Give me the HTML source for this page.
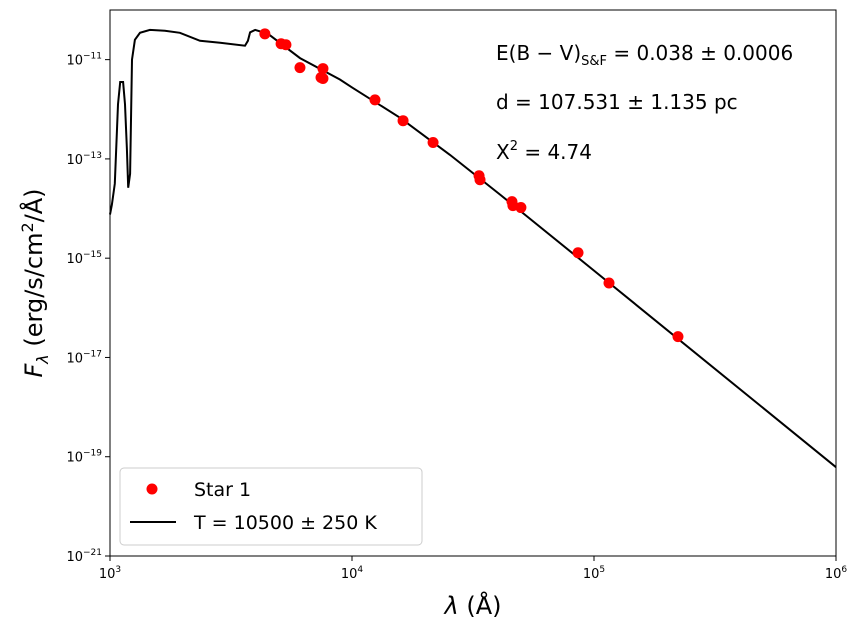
<!DOCTYPE html>
<html><head><meta charset="utf-8"><style>
body{margin:0;background:#fff}
svg text{font-family:"DejaVu Sans","Liberation Sans",sans-serif}
</style></head><body>
<svg id="chart" width="863" height="634" xmlns="http://www.w3.org/2000/svg"></svg>
<script>
const obsLogLambda=[3.640,3.707,3.727,3.785,3.880,3.872,3.880,4.095,4.211,4.335,4.525,4.529,4.661,4.665,4.698,4.934,5.062,5.347];
const obsLogFlux=[-10.48,-10.68,-10.70,-11.16,-11.18,-11.36,-11.38,-11.81,-12.23,-12.67,-13.34,-13.42,-13.86,-13.94,-13.98,-14.89,-15.50,-16.58];
const modelLogLambda=[3.000,3.008,3.020,3.033,3.042,3.054,3.062,3.070,3.075,3.083,3.091,3.103,3.124,3.165,3.227,3.289,3.372,3.455,3.558,3.570,3.579,3.600,3.653,3.785,3.950,4.000,4.198,4.405,4.612,5.000,6.000];
const modelLogFlux=[-14.12,-13.92,-13.50,-11.90,-11.45,-11.45,-11.90,-12.80,-13.58,-13.30,-11.00,-10.60,-10.46,-10.40,-10.42,-10.46,-10.62,-10.66,-10.72,-10.62,-10.45,-10.40,-10.48,-10.97,-11.40,-11.56,-12.17,-12.92,-13.72,-15.25,-19.21];
const xTicks=[3,4,5,6];
const yTicks=[-21,-19,-17,-15,-13,-11];
const L=110,R=836,T=10,B=556;
const X=v=>L+(v-3)/3*(R-L);
const Y=v=>B-(v+21)/11*(B-T);
const svg=document.getElementById('chart');
const NS='http://www.w3.org/2000/svg';
function mk(tag,attrs,txt){const e=document.createElementNS(NS,tag);for(const k in attrs)e.setAttribute(k,attrs[k]);if(txt!==undefined)e.textContent=txt;svg.appendChild(e);return e;}
let d='';modelLogLambda.forEach((v,i)=>{d+=(i?'L':'M')+X(v).toFixed(1)+','+Y(modelLogFlux[i]).toFixed(1);});
const line=mk('path',{d:d,fill:'none',stroke:'#000','stroke-width':2});


obsLogLambda.forEach((v,i)=>{const c=mk('circle',{cx:X(v),cy:Y(obsLogFlux[i]),r:5.5,fill:'#f00'});

});
const fr=mk('rect',{x:L,y:T,width:R-L,height:B-T,fill:'none',stroke:'#000','stroke-width':1});


xTicks.forEach(t=>{const x=X(t);mk('line',{x1:x,x2:x,y1:B,y2:B+5,stroke:'#000'});
const tx=mk('text',{x:x,y:B+22,'text-anchor':'middle','font-size':13});


tx.innerHTML='10<tspan dy="-6" font-size="9">'+t+'</tspan>';});
yTicks.forEach(t=>{const y=Y(t);mk('line',{x1:L-5,x2:L,y1:y,y2:y,stroke:'#000'});
const tx=mk('text',{x:L-8,y:y+5,'text-anchor':'end','font-size':13});


tx.innerHTML='10<tspan dy="-6" font-size="9">\u2212'+(-t)+'</tspan>';});
</script>
<svg style="position:absolute;left:0;top:0" width="863" height="634" xmlns="http://www.w3.org/2000/svg">
<text x="473" y="614" text-anchor="middle" font-size="24" font-family="DejaVu Sans,sans-serif"><tspan font-style="italic">λ</tspan> (Å)</text>
<text transform="translate(42,283) rotate(-90)" text-anchor="middle" font-size="24" font-family="DejaVu Sans,sans-serif"><tspan font-style="italic">F</tspan><tspan font-style="italic" font-size="16" dy="6">λ</tspan><tspan dy="-6"> (erg/s/cm</tspan><tspan font-size="16" dy="-9">2</tspan><tspan dy="9">/Å)</tspan></text>
<g font-family="DejaVu Sans,sans-serif" font-size="20">
<text x="496" y="60">E(B − V)<tspan font-size="13" dy="5">S&amp;F</tspan><tspan dy="-5"> = 0.038 ± 0.0006</tspan></text>
<text x="496" y="109">d = 107.531 ± 1.135 pc</text>
<text x="496" y="159">X<tspan font-size="13" dy="-9">2</tspan><tspan dy="9"> = 4.74</tspan></text>
</g>
<g>
<rect x="120" y="468" width="302" height="77" rx="4" fill="#fff" stroke="#ccc"/>
<circle cx="152" cy="489" r="5.5" fill="#f00"/>
<text x="194" y="496" font-size="19" font-family="DejaVu Sans,sans-serif">Star 1</text>
<line x1="130" x2="176" y1="522" y2="522" stroke="#000" stroke-width="2"/>
<text x="194" y="529" font-size="19" font-family="DejaVu Sans,sans-serif">T = 10500 ± 250 K</text>
</g>
</svg>
</body></html>
